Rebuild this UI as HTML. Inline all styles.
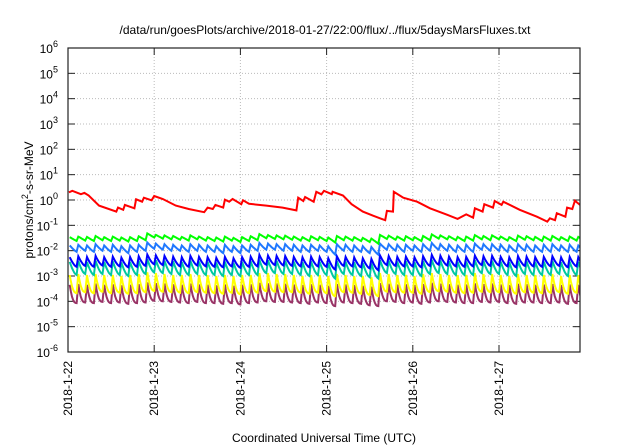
<!DOCTYPE html>
<html><head><meta charset="utf-8"><style>
body{margin:0;background:#fff}
svg{display:block;font-family:"Liberation Sans",sans-serif}
</style></head><body>
<svg id="chart" width="640" height="448" viewBox="0 0 640 448">
<defs><clipPath id="clip"><rect x="68" y="48" width="512" height="304"/></clipPath></defs>
<text x="325" y="34" text-anchor="middle" font-size="12">/data/run/goesPlots/archive/2018-01-27/22:00/flux/../flux/5daysMarsFluxes.txt</text>
<g id="grid"></g>
<g id="axes"></g>
<g id="series" clip-path="url(#clip)"></g>
<rect x="68" y="48" width="512" height="304" fill="none" stroke="#222" stroke-width="1.2"/>
<text x="324" y="442" text-anchor="middle" font-size="12">Coordinated Universal Time (UTC)</text>
<text transform="translate(33,200) rotate(-90)" text-anchor="middle" font-size="12">protons/cm<tspan dy="-5" font-size="9">2</tspan><tspan dy="5">-s-sr-MeV</tspan></text>
</svg>
<script>
const dayLabels=["2018-1-22","2018-1-23","2018-1-24","2018-1-25","2018-1-26","2018-1-27"];
const yExponents=[6,5,4,3,2,1,0,-1,-2,-3,-4,-5,-6];
const redTimes=[0.01,0.05,0.15,0.19,0.24,0.36,0.56,0.58,0.64,0.66,0.77,0.79,0.86,0.88,0.97,1.0,1.10,1.25,1.40,1.58,1.62,1.68,1.71,1.80,1.82,1.87,1.91,2.01,2.03,2.10,2.30,2.49,2.65,2.67,2.73,2.75,2.85,2.88,2.94,2.97,3.06,3.07,3.19,3.29,3.42,3.54,3.68,3.70,3.77,3.78,3.89,4.05,4.20,4.40,4.52,4.62,4.70,4.72,4.81,4.83,4.93,4.95,5.03,5.05,5.24,5.44,5.56,5.59,5.65,5.67,5.77,5.79,5.85,5.88,5.94];
const redValues=[2.0,2.3,1.7,1.9,1.5,0.6,0.35,0.5,0.41,0.64,0.47,1.07,0.86,1.23,0.97,1.44,1.1,0.6,0.44,0.33,0.5,0.44,0.64,0.5,1.03,0.86,1.1,0.68,0.97,0.71,0.6,0.5,0.39,1.23,0.91,1.31,0.86,2.1,1.68,2.3,1.7,2.1,1.5,0.68,0.35,0.24,0.16,0.37,0.35,2.1,1.23,0.86,0.47,0.26,0.18,0.27,0.2,0.47,0.35,0.68,0.5,0.91,0.64,0.86,0.41,0.22,0.14,0.19,0.16,0.3,0.22,0.5,0.44,0.94,0.64];
const toothTimes=[0,0.1,0.2,0.3,0.4,0.5,0.6,0.7,0.8,0.9,1.0,1.1,1.2,1.3,1.4,1.5,1.6,1.7,1.8,1.9,2.0,2.1,2.2,2.3,2.4,2.5,2.6,2.7,2.8,2.9,3.0,3.1,3.2,3.3,3.4,3.5,3.6,3.7,3.8,3.9,4.0,4.1,4.2,4.3,4.4,4.5,4.6,4.7,4.8,4.9,5.0,5.1,5.2,5.3,5.4,5.5,5.6,5.7,5.8,5.9];
const greenPeaks=[.034,.036,.035,.038,.034,.036,.033,.034,.037,.048,.042,.040,.038,.035,.040,.036,.034,.033,.036,.032,.034,.037,.045,.041,.040,.039,.036,.034,.037,.035,.033,.038,.036,.034,.032,.030,.042,.039,.036,.037,.034,.038,.044,.040,.037,.035,.036,.041,.038,.040,.036,.034,.039,.037,.035,.036,.038,.034,.036,.035];
const greenTroughs=[.024,.025,.024,.026,.024,.025,.023,.024,.026,.033,.030,.028,.027,.025,.028,.025,.024,.023,.025,.022,.024,.026,.031,.029,.028,.027,.025,.024,.026,.024,.021,.026,.025,.024,.022,.019,.029,.027,.025,.026,.024,.026,.030,.028,.026,.024,.025,.028,.026,.028,.025,.024,.027,.026,.024,.025,.026,.024,.025,.024];
const lightBluePeaks=[.016,.017,.016,.018,.016,.017,.015,.016,.017,.021,.019,.018,.017,.016,.018,.017,.016,.015,.017,.015,.016,.017,.020,.019,.018,.018,.017,.016,.017,.016,.015,.018,.017,.016,.015,.014,.019,.018,.017,.017,.016,.018,.020,.018,.017,.016,.017,.019,.018,.018,.017,.016,.018,.017,.016,.017,.018,.016,.017,.016];
const lightBlueTroughs=[.009,.010,.009,.010,.009,.009,.008,.009,.010,.012,.011,.010,.010,.009,.010,.009,.009,.008,.009,.008,.009,.010,.011,.011,.010,.010,.009,.009,.010,.009,.007,.010,.009,.009,.008,.007,.011,.010,.009,.010,.009,.010,.011,.010,.009,.009,.009,.011,.010,.010,.009,.009,.010,.009,.009,.009,.010,.009,.009,.009];
const darkBluePeaks=[.0055,.0060,.0056,.0062,.0055,.0058,.0053,.0056,.0060,.0070,.0065,.0062,.0058,.0055,.0062,.0057,.0055,.0052,.0057,.0050,.0055,.0058,.0068,.0064,.0062,.0061,.0057,.0054,.0058,.0055,.0050,.0060,.0057,.0054,.0050,.0047,.0065,.0061,.0057,.0058,.0054,.0060,.0068,.0063,.0058,.0055,.0057,.0064,.0060,.0062,.0057,.0054,.0061,.0058,.0055,.0057,.0060,.0054,.0057,.0055];
const darkBlueTroughs=[.0023,.0025,.0023,.0026,.0023,.0024,.0022,.0023,.0025,.0029,.0027,.0026,.0024,.0023,.0026,.0024,.0023,.0022,.0024,.0021,.0023,.0024,.0028,.0027,.0026,.0025,.0024,.0022,.0024,.0023,.0018,.0025,.0024,.0022,.0020,.0017,.0027,.0025,.0024,.0024,.0022,.0025,.0028,.0026,.0024,.0023,.0024,.0027,.0025,.0026,.0024,.0022,.0025,.0024,.0023,.0024,.0025,.0022,.0024,.0023];
const tealPeaks=[.0036,.0039,.0036,.0040,.0036,.0038,.0034,.0036,.0039,.0046,.0042,.0040,.0038,.0036,.0040,.0037,.0036,.0034,.0037,.0033,.0036,.0038,.0044,.0042,.0040,.0040,.0037,.0035,.0038,.0036,.0033,.0039,.0037,.0035,.0033,.0031,.0042,.0040,.0037,.0038,.0035,.0039,.0044,.0041,.0038,.0036,.0037,.0042,.0039,.0040,.0037,.0035,.0040,.0038,.0036,.0037,.0039,.0035,.0037,.0036];
const tealTroughs=[.0011,.0012,.0011,.0012,.0011,.0011,.0010,.0011,.0012,.0014,.0013,.0012,.0011,.0011,.0012,.0011,.0011,.0010,.0011,.0010,.0011,.0011,.0013,.0013,.0012,.0012,.0011,.0010,.0011,.0011,.0008,.0012,.0011,.0010,.0009,.0008,.0013,.0012,.0011,.0011,.0010,.0012,.0013,.0012,.0011,.0011,.0011,.0013,.0012,.0012,.0011,.0010,.0012,.0011,.0011,.0011,.0012,.0010,.0011,.0011];
const yellowPeaks=[.0011,.0012,.0011,.0012,.0011,.0011,.0010,.0011,.0012,.0014,.0013,.0012,.0011,.0011,.0012,.0011,.0011,.0010,.0011,.0010,.0011,.0011,.0013,.0013,.0012,.0012,.0011,.0010,.0011,.0011,.0010,.0012,.0011,.0010,.0010,.0009,.0013,.0012,.0011,.0011,.0010,.0012,.0013,.0012,.0011,.0011,.0011,.0013,.0012,.0012,.0011,.0010,.0012,.0011,.0011,.0011,.0012,.0010,.0011,.0011];
const yellowTroughsE5=[21,23,21,24,21,22,20,21,23,26,24,23,22,21,23,22,21,20,22,19,21,22,25,24,23,23,22,20,22,21,16,23,22,20,18,16,24,23,22,22,20,23,25,24,22,21,22,24,23,23,22,20,23,22,21,22,23,20,22,21];
const purplePeaksE5=[45,48,45,50,45,47,43,45,48,56,52,50,47,45,50,46,45,43,46,41,45,47,54,51,50,49,46,44,47,45,41,48,46,44,41,38,52,49,46,47,44,48,54,50,47,45,46,51,48,50,46,44,49,47,45,46,48,44,46,45];
const purpleTroughsE5=[8.5,9,8.5,9.5,8.5,9,8,8.5,9,10.5,10,9.5,9,8.5,9.5,8.5,8.5,8,8.5,7.5,8.5,9,10,9.5,9.5,9,8.5,8,9,8.5,6.5,9,8.5,8,7,6.5,10,9.5,8.5,9,8,9,10,9.5,9,8.5,8.5,9.5,9,9.5,8.5,8,9,9,8.5,8.5,9,8,8.5,8.5];
const E5=1e-5;

const X0=68,X1=580,Y0=48,Y1=352,DAYPX=86.2,LOGMAX=6,LOGMIN=-6,RISE=0.02;
const NS="http://www.w3.org/2000/svg";
function xs(t){return X0+t*DAYPX;}
function ys(v){const l=Math.log10(v);return Y0+(LOGMAX-l)/(LOGMAX-LOGMIN)*(Y1-Y0);}
function mk(tag,attrs,parent){const e=document.createElementNS(NS,tag);for(const k in attrs)e.setAttribute(k,attrs[k]);parent.appendChild(e);return e;}
const grid=document.getElementById('grid'),axes=document.getElementById('axes'),ser=document.getElementById('series');

yExponents.forEach(ex=>{
  const y=ys(Math.pow(10,ex));
  if(ex<6&&ex>-6){const g=mk('line',{x1:X0,x2:X1,y1:y,y2:y,stroke:'#bbb','stroke-dasharray':'1,2','stroke-width':1},grid);
  
  }
  const t1=mk('line',{x1:X0,x2:X0+7,y1:y,y2:y,stroke:'#222'},axes);
  
  
  const t2=mk('line',{x1:X1-7,x2:X1,y1:y,y2:y,stroke:'#222'},axes);
  
  
  const tx=mk('text',{x:58,y:y+5,'text-anchor':'end','font-size':12},axes);
  
  
  tx.innerHTML='10<tspan dy="-6" font-size="9">'+ex+'</tspan>';
});
dayLabels.forEach((lab,i)=>{
  const x=xs(i);
  if(i>0){const g=mk('line',{x1:x,x2:x,y1:Y0,y2:Y1,stroke:'#bbb','stroke-dasharray':'1,2','stroke-width':1},grid);
  
  }
  const t1=mk('line',{x1:x,x2:x,y1:Y1-7,y2:Y1,stroke:'#222'},axes);
  
  
  const t2=mk('line',{x1:x,x2:x,y1:Y0,y2:Y0+7,stroke:'#222'},axes);
  
  
  const tx=mk('text',{transform:'translate('+(x+4)+',361) rotate(-90)','text-anchor':'end','font-size':12},axes);
  
  
  tx.textContent=lab;
});

function tooth(peaks,troughs,scale,color,k,name){
  let d='';
  for(let i=0;i<toothTimes.length;i++){
    const t0=toothTimes[i],t1=i+1<toothTimes.length?toothTimes[i+1]:t0+(t0-toothTimes[i-1]);
    const lp=Math.log10(peaks[i]*scale),lt=Math.log10(troughs[i]*scale);
    const ts=t0+RISE;
    for(let s=0;s<=6;s++){
      const f=s/6,l=lt+(lp-lt)*Math.pow(1-f,k);
      d+=(i===0&&s===0?'M':'L')+xs(ts+f*(t1-ts)).toFixed(1)+','+ys(Math.pow(10,l)).toFixed(1);
    }
  }
  const p=mk('path',{d:d,fill:'none',stroke:color,'stroke-width':2,'stroke-linejoin':'miter'},ser);
  
  
}
tooth(purplePeaksE5,purpleTroughsE5,E5,'#993366',2.6,'series-purple');
tooth(yellowPeaks,yellowTroughsE5.map(v=>v*E5),1,'#ffff00',2.4,'series-yellow');
tooth(tealPeaks,tealTroughs,1,'#00c8a0',1.6,'series-teal');
tooth(darkBluePeaks,darkBlueTroughs,1,'#0000ff',1.5,'series-dark-blue');
tooth(lightBluePeaks,lightBlueTroughs,1,'#1e78ff',1.2,'series-light-blue');
tooth(greenPeaks,greenTroughs,1,'#00ff00',1.0,'series-green');
let rd='';
redTimes.forEach((t,i)=>{rd+=(i?'L':'M')+xs(t).toFixed(1)+','+ys(redValues[i]).toFixed(1);});
const rp=mk('path',{d:rd,fill:'none',stroke:'#ff0000','stroke-width':2},ser);


</script>
</body></html>
